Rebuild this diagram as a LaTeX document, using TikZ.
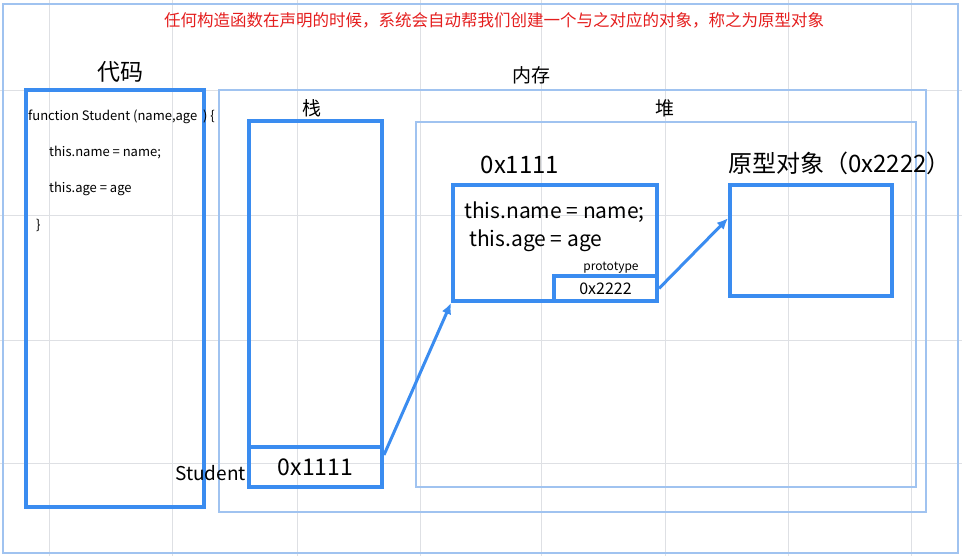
\documentclass[tikz,border=0pt]{standalone}
\usepackage{fontspec}
\setmainfont{Noto Sans CJK SC}
\usetikzlibrary{positioning,arrows.meta}

\definecolor{boxblue}{RGB}{58,140,240}
\definecolor{frameblue}{RGB}{160,195,240}
\definecolor{gridgray}{RGB}{222,224,228}
\definecolor{titlered}{RGB}{228,30,30}

\newcommand{\fs}[1]{\fontsize{#1}{#1}\selectfont}

\begin{document}
\begin{tikzpicture}[
				x=1pt, y=-1pt,
				thickbox/.style={rectangle, draw=boxblue, line width=4pt, inner sep=0pt},
				thinbox/.style={rectangle, draw=frameblue, line width=2pt, inner sep=0pt},
				label/.style={inner sep=0pt},
				link/.style={draw=boxblue, line width=3pt, -{Latex[length=11pt,width=10pt]}}
				]
				\useasboundingbox (0,0) rectangle (962,556);
				% Hintergrund-Raster
				\foreach \gx in {49,172,297,420,541,665,788,911}
					\draw[gridgray, line width=0.8pt] (\gx,0) -- (\gx,556);
				\foreach \gy in {90,215,340,463}
					\draw[gridgray, line width=0.8pt] (0,\gy) -- (962,\gy);
				\draw[frameblue, line width=2.5pt] (3,4) rectangle (958,553);
				
				% Titel
				\node[label, text=titlered, font=\fs{16.5}] (title) at (494,20) {任何构造函数在声明的时候，系统会自动帮我们创建一个与之对应的对象，称之为原型对象};
				
				% Code
				\node[label, font=\fs{23}] (codetitle) at (120,72) {代码};
				\node[thickbox, minimum width=178pt, minimum height=417pt] (code) at (115,298.5) {};
				\node[label, anchor=west, font=\fs{13}] (line1) at (28,117) {function Student (name,age\ \ ) \{};
				\node[label, anchor=west, font=\fs{13}] (line2) at (49,153) {this.name = name;};
				\node[label, anchor=west, font=\fs{13}] (line3) at (49,189) {this.age = age};
				\node[label, anchor=west, font=\fs{13}] (line4) at (36,225) {\}};
				
				% Speicher
				\node[label, font=\fs{19}] (memtitle) at (531,75) {内存};
				\node[thinbox, minimum width=707pt, minimum height=422pt] (memory) at (572.5,301) {};
				
				% Stack
				\node[label, font=\fs{19}] (stacktitle) at (312,108) {栈};
				\node[thickbox, minimum width=133pt, minimum height=366pt] (stack) at (315.5,304) {};
				\node[thickbox, minimum width=133pt, minimum height=40pt, font=\fs{23}] (cell) at (315.5,467) {0x1111};
				\node[label, anchor=east, font=\fs{19}] (varname) at (246,473) {Student};
				
				% Heap
				\node[label, font=\fs{19}] (heaptitle) at (665,108) {堆};
				\node[thinbox, minimum width=500pt, minimum height=365pt] (heap) at (666,304.5) {};
				
				\node[label, font=\fs{24}] (objaddr) at (520,165) {0x1111};
				\node[thickbox, minimum width=204pt, minimum height=116pt] (obj) at (555,243) {};
				\node[label, anchor=west, font=\fs{21}] (objline1) at (464,212) {this.name = name;};
				\node[label, anchor=west, font=\fs{21}] (objline2) at (469,241) {this.age = age};
				\node[label, font=\fs{12}] (protolabel) at (611,268) {prototype};
				\node[thickbox, minimum width=103pt, minimum height=25pt, font=\fs{16}] (protocell) at (605.5,288.5) {0x2222};
				
				\node[label, anchor=west, font=\fs{24}] (prototitle) at (728,163) {原型对象（0x2222）};
				\node[thickbox, minimum width=162pt, minimum height=111pt] (proto) at (811,240.5) {};
				
				% Pfeile
				\draw[link] (cell.10) -- (obj.south west);
				\draw[link] (protocell.east) -- (proto.165);
			\end{tikzpicture}
\end{document}
